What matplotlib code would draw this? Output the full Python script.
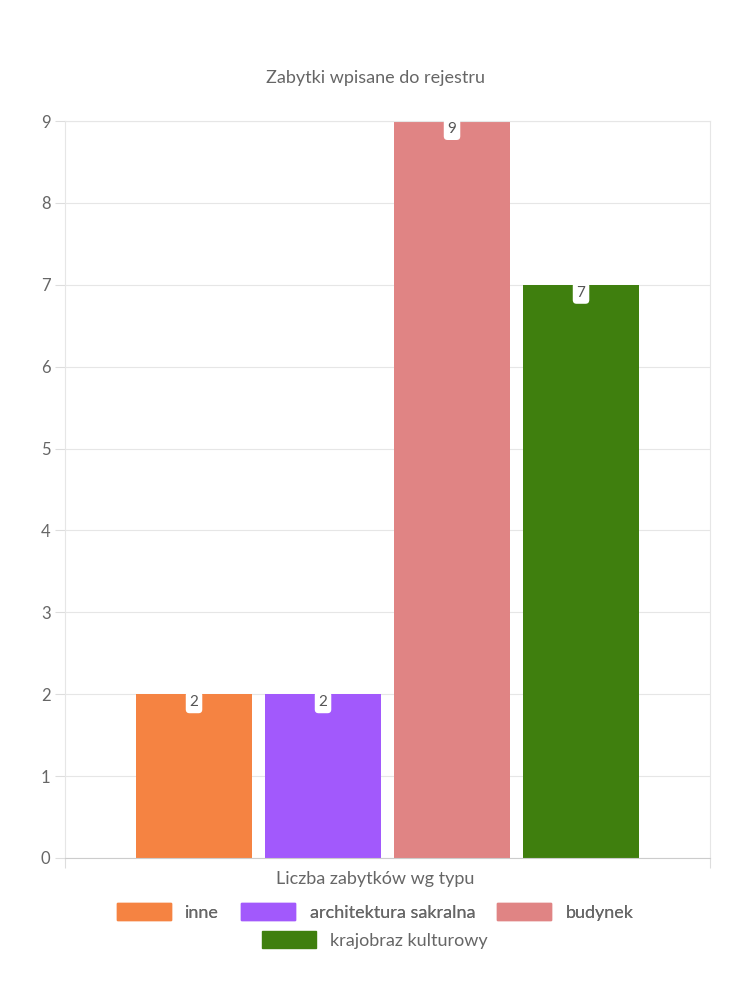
import matplotlib
matplotlib.use("Agg")
from matplotlib import pyplot as plt
from matplotlib.patches import Patch

plt.rcParams['font.family'] = ['Lato', 'DejaVu Sans']

categories = ["inne", "architektura sakralna", "budynek", "krajobraz kulturowy"]
values = [2, 2, 9, 7]
colors = ["#f58342", "#a259fc", "#e08484", "#3f7f0e"]
positions = [-1.5, -0.5, 0.5, 1.5]

fig = plt.figure(figsize=(7.5, 10), dpi=100)
ax = fig.add_axes([0.0867, 0.142, 0.86, 0.737])

ax.bar(positions, values, width=0.9, color=colors, zorder=2)
for x, v in zip(positions, values):
    ax.text(x, v - 0.1, str(v), ha="center", va="center", fontsize=11, color="#555555",
            bbox=dict(boxstyle="round,pad=0.25", fc="white", ec="none"), zorder=3)

ax.set_xlim(-2.5, 2.5)
ax.set_ylim(0, 9)
ax.set_yticks(range(10))
ax.set_xticks([-2.5, 2.5])
ax.set_xticklabels(["", ""])
ax.tick_params(axis="y", colors="#dddddd", labelcolor="#666666", labelsize=12, length=7)
ax.tick_params(axis="x", colors="#dddddd", length=7)
ax.grid(axis="y", color="#e6e6e6", linewidth=0.8, zorder=0)
for s in ax.spines.values():
    s.set_color("#e6e6e6")
ax.spines["bottom"].set_color("#cccccc")

fig.text(0.5, 0.922, "Zabytki wpisane do rejestru", ha="center", va="center", fontsize=13, color="#666666")
fig.text(0.5, 0.121, "Liczba zabytków wg typu", ha="center", va="center", fontsize=13, color="#666666")

handles = [Patch(color=c, label=l) for c, l in zip(colors, categories)]
leg1 = fig.legend(handles=handles[:3], loc="center", bbox_to_anchor=(0.5, 0.088), ncol=3,
                  frameon=False, fontsize=13, handlelength=3.0, handleheight=1.0, columnspacing=1.2,
                  labelcolor="#666666")
fig.add_artist(leg1)
fig.legend(handles=handles[3:], loc="center", bbox_to_anchor=(0.5, 0.06), ncol=1,
           frameon=False, fontsize=13, handlelength=3.0, handleheight=1.0, labelcolor="#666666")

fig.savefig("out.png", dpi=100)
